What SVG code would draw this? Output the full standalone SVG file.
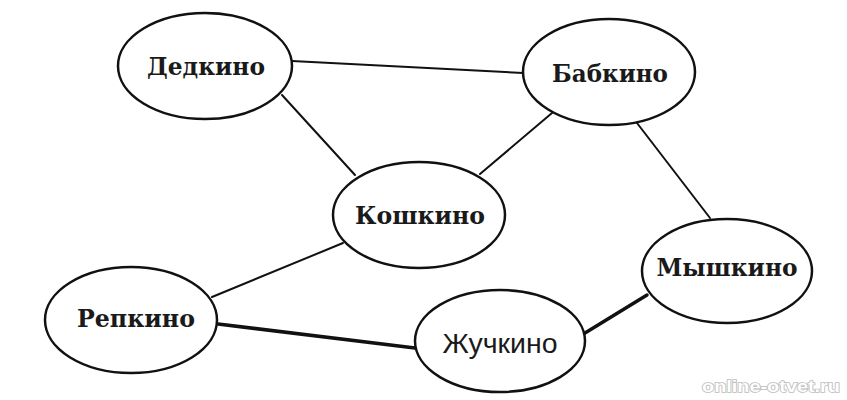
<svg xmlns="http://www.w3.org/2000/svg" width="847" height="400" viewBox="0 0 847 400">
<style>
.node ellipse{fill:#fff;stroke:#111;stroke-width:2.5}
.lbl{font-family:"DejaVu Serif","Liberation Serif",serif;font-weight:bold;font-size:24px;fill:#1a1a1a;text-anchor:middle}
.lbl2{font-family:"Liberation Sans",Arial,sans-serif;font-size:27px;fill:#1a1a1a;text-anchor:middle}
.edge{stroke:#111;stroke-width:2;fill:none;stroke-linecap:round}
.thick{stroke-width:3.5}
.wm{font-family:"Liberation Sans",Arial,sans-serif;font-weight:bold;font-size:17px;fill:#fff;stroke:#bdbdbd;stroke-width:1.6;paint-order:stroke}
</style>
<rect width="847" height="400" fill="#fff"/>
<g id="connectors">
<line class="edge" x1="292" y1="61" x2="523" y2="73"/>
<line class="edge" x1="282" y1="95" x2="355" y2="175"/>
<line class="edge" x1="552" y1="113" x2="480" y2="174"/>
<line class="edge" x1="637" y1="123" x2="710" y2="218"/>
<line class="edge" x1="343" y1="243" x2="212" y2="297"/>
<line class="edge thick" x1="218" y1="324" x2="415" y2="348"/>
<line class="edge thick" x1="585" y1="333" x2="647" y2="295"/>
</g>
<g id="dedkino" class="node"><ellipse cx="205" cy="66" rx="87" ry="53"/><text class="lbl" x="206" y="75" textLength="118" lengthAdjust="spacingAndGlyphs">Дедкино</text></g>
<g id="babkino" class="node"><ellipse cx="609" cy="72" rx="86" ry="53"/><text class="lbl" x="610" y="82" textLength="116" lengthAdjust="spacingAndGlyphs">Бабкино</text></g>
<g id="koshkino" class="node"><ellipse cx="419" cy="215" rx="86" ry="53"/><text class="lbl" x="420" y="224" textLength="130" lengthAdjust="spacingAndGlyphs">Кошкино</text></g>
<g id="repkino" class="node"><ellipse cx="131" cy="320" rx="86" ry="53"/><text class="lbl" x="136" y="327" textLength="118" lengthAdjust="spacingAndGlyphs">Репкино</text></g>
<g id="zhuchkino" class="node"><ellipse cx="500" cy="341" rx="85" ry="51"/><text class="lbl2" x="500" y="353" textLength="115" lengthAdjust="spacingAndGlyphs">Жучкино</text></g>
<g id="myshkino" class="node"><ellipse cx="727" cy="271" rx="85" ry="52"/><text class="lbl" x="727" y="276" textLength="141" lengthAdjust="spacingAndGlyphs">Мышкино</text></g>
<text class="wm" x="771" y="392" text-anchor="middle" textLength="138" lengthAdjust="spacingAndGlyphs">online-otvet.ru</text>
</svg>
